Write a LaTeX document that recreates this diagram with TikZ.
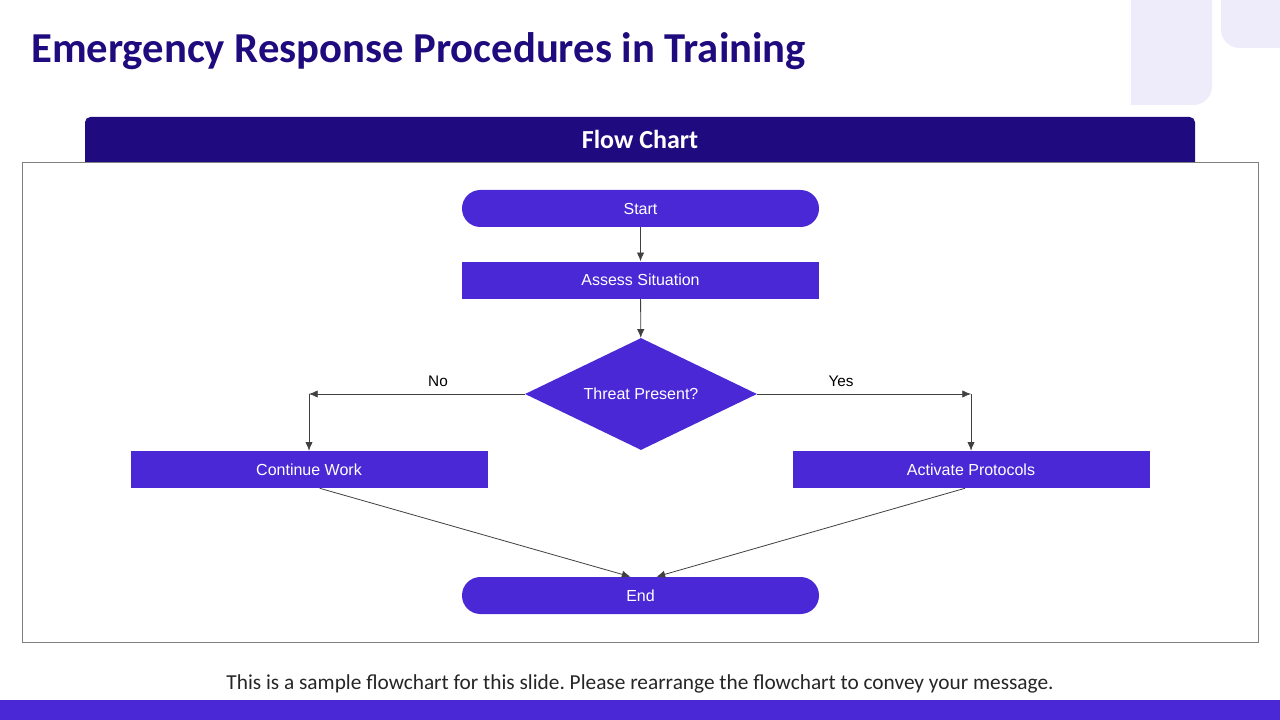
\documentclass[tikz,border=0pt]{standalone}
\usepackage{fontspec}
\setmainfont{Liberation Sans}
\newfontfamily\calibri{Carlito}
\usetikzlibrary{shapes.geometric,arrows.meta}
\definecolor{navy}{HTML}{1F0A7E}
\definecolor{headbar}{HTML}{200A80}
\definecolor{nodeblue}{HTML}{4A28D6}
\definecolor{lav}{HTML}{EEECFB}
\definecolor{linegray}{HTML}{404040}
\definecolor{framegray}{HTML}{7F7F7F}
\definecolor{bodytext}{HTML}{262626}
\frenchspacing
\begin{document}
\begin{tikzpicture}[x=0.75pt,y=-0.75pt,
  procbox/.style={fill=nodeblue, draw=none, minimum width=267.75pt, minimum height=27.75pt, inner sep=0pt, text=white, font=\fontsize{12}{14}\selectfont},
  pillbox/.style={procbox, rounded corners=13.8pt},
  decbox/.style={diamond, fill=nodeblue, draw=none, text=white, inner sep=0pt, shape aspect=2.07, minimum width=174pt, minimum height=84pt, font=\fontsize{12}{14}\selectfont},
  conn/.style={draw=linegray, line width=0.6pt, -{Latex[length=6.5pt,width=5.5pt]}},
  lbl/.style={font=\fontsize{11.5}{13}\selectfont, text=black}]
\useasboundingbox (0,0) rectangle (1280,720);
\fill[white] (0,0) rectangle (1280,720);
% decoration top right
\fill[lav, rounded corners=14pt] (1131,-40) rectangle (1212,105);
\fill[lav] (1131,60) rectangle (1170,105);
\fill[lav, rounded corners=14pt] (1221,-40) rectangle (1320,48);
% title
\node[anchor=base west, inner sep=0pt, text=navy, font=\calibri\bfseries\fontsize{32}{38}\selectfont] (title) at (31,63) {Emergency Response Procedures in Training};
% header bar
\fill[headbar, rounded corners=4pt] (85,117) rectangle (1195,175);
\node[anchor=base, inner sep=0pt, text=white, font=\calibri\bfseries\fontsize{19.5}{23}\selectfont] (head) at (640,149) {Flow Chart};
% frame
\draw[framegray, line width=0.75pt, fill=white] (22,163) rectangle (1258,642);
% nodes
\node[pillbox] (start) at (640.5,208.5) {Start};
\node[procbox] (assess) at (640.5,280) {Assess Situation};
\node[decbox] (dec) at (641,394) {Threat Present?};
\node[procbox] (cont) at (309,469.5) {Continue Work};
\node[procbox] (act) at (971,469.5) {Activate Protocols};
\node[pillbox] (end) at (640.5,595.5) {End};
\coordinate (cno) at (309,394);
\coordinate (cyes) at (971,394);
% connectors
\draw[conn] (start) -- (assess);
\draw[conn] (assess) -- (dec);
\draw[conn] (dec.west) -- (cno);
\draw[conn] (cno) -- (cont.north);
\draw[conn] (dec.east) -- (cyes);
\draw[conn] (cyes) -- (act.north);
\draw[conn] ([xshift=8pt]cont.south) -- ([xshift=-7.5pt]end.north);
\draw[conn] ([xshift=-4.5pt]act.south) -- ([xshift=12pt]end.north);
\node[lbl] (lno) at (438,381) {No};
\node[lbl] (lyes) at (841,381) {Yes};
% footer
\node[anchor=base, inner sep=0pt, text=bodytext, font=\calibri\fontsize{16}{19}\selectfont] (foot) at (640,689) {This is a sample flowchart for this slide. Please rearrange the flowchart to convey your message.};
\fill[nodeblue] (0,700) rectangle (1280,720);
\end{tikzpicture}
\end{document}
